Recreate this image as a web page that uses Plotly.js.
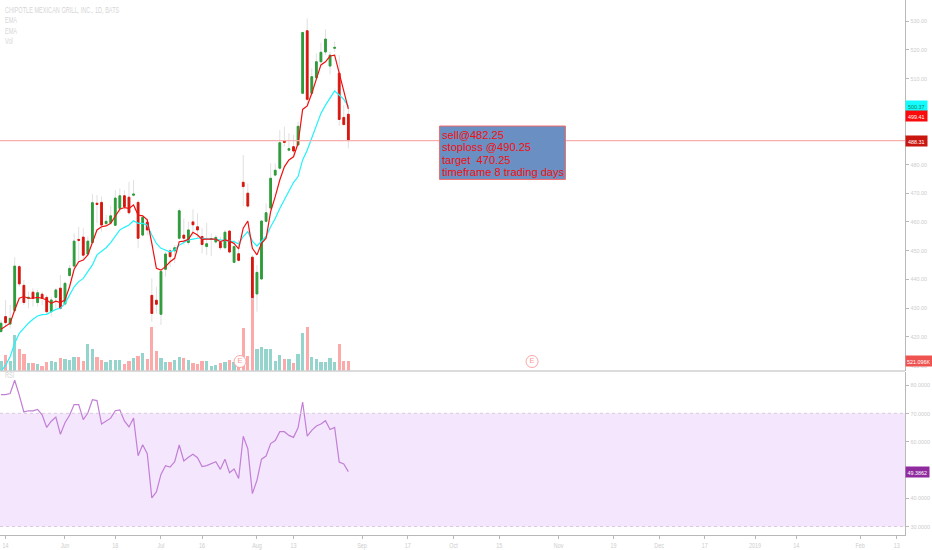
<!DOCTYPE html>
<html><head><meta charset="utf-8">
<script src="https://cdn.plot.ly/plotly-3.0.1.min.js"></script>
<style>html,body{margin:0;padding:0;background:#fff}#c{width:932px;height:550px}</style>
</head><body><div id="c"></div>
<script>
const opens=[421.8,427.0,424.4,429.1,444.4,437.9,433.4,435.5,431.9,434.8,433.7,428.7,433.7,436.9,431.4,441.3,444.6,453.9,454.7,448.8,452.8,466.5,466.8,459.4,459.7,458.8,464.7,469.1,468.6,469.3,466.8,455.4,459.9,434.4,432.7,427.8,443.5,449.9,449.9,454.3,455.4,452.8,460.0,458.3,454.9,451.4,453.9,453.0,452.9,451.0,456.8,445.9,448.9,473.8,470.0,447.7,434.9,440.1,460.2,464.8,476.3,478.7,488.3,485.0,486.2,486.8,504.8,526.6,504.8,510.2,515.8,519.2,514.3,520.5,511.8,496.4,497.5];
const highs=[425.8,432.8,431.0,447.7,445.0,439.8,435.7,436.9,436.3,435.7,434.5,433.9,436.9,441.5,439.2,445.0,456.0,458.3,457.8,454.9,469.7,469.4,468.8,462.4,465.5,471.1,471.7,471.1,474.0,474.6,467.6,462.4,461.2,440.3,437.4,443.2,449.6,450.8,451.9,464.7,461.2,460.1,464.4,463.0,457.8,459.7,456.0,455.4,454.9,457.2,457.2,453.7,453.7,483.3,473.4,448.5,445.0,460.7,466.5,480.4,480.4,492.0,493.2,490.9,490.3,494.9,526.3,530.9,513.5,518.7,522.4,527.1,519.3,522.8,518.1,500.7,500.7];
const lows=[421.2,423.5,422.9,428.7,437.4,431.0,429.9,430.5,430.5,431.0,428.1,427.0,429.9,429.3,431.0,440.9,443.8,446.7,446.7,448.1,452.5,459.5,456.6,458.9,458.9,458.6,463.0,464.1,462.4,468.8,450.8,454.9,455.4,425.2,428.1,424.1,440.9,444.4,445.6,453.7,452.0,452.0,454.9,454.3,449.0,448.5,448.1,452.5,450.2,450.4,449.0,445.6,446.1,465.5,464.7,432.8,428.7,439.8,459.7,464.1,475.8,478.1,486.2,484.5,483.9,486.4,504.8,500.7,503.9,510.0,515.2,518.1,511.4,519.3,493.5,493.8,485.6];
const closes=[424.7,424.9,426.4,444.6,438.4,431.9,433.7,433.4,435.3,433.4,428.7,432.8,436.3,429.9,438.6,443.8,453.3,453.6,448.4,453.3,466.7,466.1,458.9,460.2,462.1,468.3,469.1,465.3,463.2,469.7,454.3,461.6,457.2,428.1,431.3,442.7,448.8,447.9,451.0,463.9,454.3,457.2,459.0,457.2,452.1,452.4,454.2,454.6,451.0,456.4,449.5,451.4,446.6,472.3,465.5,433.6,442.4,460.3,463.2,475.2,478.0,487.6,487.7,485.5,484.7,493.3,526.0,502.7,510.6,515.8,519.1,523.7,518.1,520.8,495.7,493.9,488.31];
const volumeK=[521,834,521,1911,1181,903,417,417,347,261,434,521,434,660,608,556,730,730,521,1424,1181,730,573,469,556,556,556,347,521,660,782,921,643,2345,1042,695,469,469,556,730,660,573,382,347,521,521,261,295,400,452,573,434,434,2293,764,3995,1181,1268,1129,1181,521,834,608,608,382,886,1998,2310,730,608,452,452,695,452,1424,521,521];
const emaFast=[422.6,423.5,424.7,429.3,433.4,434.0,433.4,433.4,433.7,433.4,432.8,431.6,432.4,431.9,432.8,437.4,443.5,446.1,446.7,448.5,452.5,457.2,458.3,458.6,459.5,462.1,464.4,465.0,464.7,465.9,462.4,462.1,460.7,452.5,443.8,443.2,444.4,446.1,447.3,453.1,453.3,453.9,456.4,455.4,453.9,454.0,454.0,454.0,453.1,453.7,453.3,452.5,450.6,457.8,460.3,450.8,448.5,452.5,454.3,463.6,468.8,474.6,479.2,481.6,482.7,487.4,499.2,500.4,504.8,509.4,514.7,515.8,517.8,518.1,511.8,505.4,499.41];
const emaSlow=[407.8,410.1,413.0,417.7,421.2,423.1,424.7,426.1,427.2,427.7,427.8,428.7,429.5,429.9,431.6,434.5,437.4,439.2,440.3,442.7,445.0,448.5,449.6,451.0,452.8,454.9,457.2,458.1,458.9,460.4,459.5,459.5,458.9,455.4,452.5,450.8,450.2,449.6,450.2,451.9,452.8,453.7,454.0,454.3,454.3,454.0,453.9,453.9,453.7,453.7,453.5,453.1,452.3,454.9,456.6,453.3,451.6,453.3,454.9,458.3,461.2,464.7,467.6,470.5,473.7,475.8,481.6,485.0,489.1,493.8,497.8,500.7,503.1,505.6,504.2,502.7,500.37];
const rsi=[76.6,76.6,77.0,81.7,76.4,70.5,70.9,70.9,71.4,69.5,65.0,67.2,68.7,62.6,66.7,69.3,73.1,73.1,67.8,70.1,74.8,74.5,66.2,67.4,68.3,70.9,71.2,67.3,65.2,68.3,55.0,58.9,55.7,40.1,42.2,48.4,51.5,51.0,52.9,58.8,53.2,54.5,55.5,54.3,51.2,51.5,52.2,52.9,50.2,53.8,49.0,50.3,47.0,61.9,57.5,41.6,46.3,53.8,54.9,59.3,60.4,63.5,63.5,62.2,61.5,64.9,74.0,61.9,64.0,65.5,66.2,67.4,64.3,65.0,52.8,52.1,49.3862];
const xTickVals=[1,14,25,35,44,56,64,79,89,99,109,122,134,144,154,165,174,188,196];
const xTickText=['14','Jun','18','Jul','16','Aug','13','Sep','17','Oct','15','Nov','19','Dec','17','2019','14','Feb','13'];
const priceTicks=[410,420,430,440,450,460,470,480,510,520,530];
const rsiTicks=[30,40,60,70,80];
const legendLines=['CHIPOTLE MEXICAN GRILL, INC., 1D, BATS','EMA','EMA','Vol'];
const noteLines=['sell@482.25','stoploss @490.25','target  470.25','timeframe 8 trading days'];
const earningsX=[52.3,116.2];
const earningsY=[483,483];
const lastClose=488.31, lastFast=499.41, lastSlow=500.37, lastRsi=49.3862, lastVol=521.096;

const idx=closes.map((_,i)=>i);
const up=closes.map((c,i)=>c>=opens[i]);
const GREEN='#2d9c3a', RED='#d9160e', TICK='#cdcdcd', AXIS='#b9b9b9';
const sans='"Liberation Sans",Arial,sans-serif';
const H=535, topFrac=1-370.5/H, rsiTop=1-371.5/H;

const traces=[
 {type:'bar',x:idx,y:volumeK,xaxis:'x',yaxis:'y',width:0.72,
  marker:{color:up.map(u=>u?'#95d4cd':'#fba9a9'),line:{width:0}},hoverinfo:'skip'},
 {type:'candlestick',x:idx,open:opens,high:highs,low:lows,close:closes,xaxis:'x',yaxis:'y2',
  whiskerwidth:0,increasing:{line:{color:'#e0e0e0',width:1},fillcolor:'#e0e0e0'},
  decreasing:{line:{color:'#e0e0e0',width:1},fillcolor:'#e0e0e0'},hoverinfo:'skip'},
 {type:'candlestick',x:idx,open:opens,close:closes,
  high:opens.map((o,i)=>Math.max(o,closes[i])),low:opens.map((o,i)=>Math.min(o,closes[i])),
  xaxis:'x',yaxis:'y2',whiskerwidth:0,
  increasing:{line:{color:GREEN,width:1},fillcolor:GREEN},
  decreasing:{line:{color:RED,width:1},fillcolor:RED},hoverinfo:'skip'},
 {type:'scatter',mode:'lines',x:idx,y:emaSlow,xaxis:'x',yaxis:'y2',line:{color:'#22f2fa',width:1.2},hoverinfo:'skip'},
 {type:'scatter',mode:'lines',x:idx,y:emaFast,xaxis:'x',yaxis:'y2',line:{color:'#ee1111',width:1.2},hoverinfo:'skip'},
 {type:'scatter',mode:'markers+text',x:earningsX,y:earningsY,xaxis:'x',yaxis:'y',text:['E','E'],textposition:'middle center',
  textfont:{family:sans,size:7.5,color:'#f79a9a'},
  marker:{symbol:'circle',size:12,color:'#ffffff',line:{color:'#fba5a5',width:1}},hoverinfo:'skip'},
 {type:'scatter',mode:'lines',x:idx,y:rsi,xaxis:'x',yaxis:'y3',line:{color:'#c27fd6',width:1.2},hoverinfo:'skip'}
];

const shapes=[
 {type:'rect',xref:'paper',x0:0,x1:1,yref:'y3',y0:30,y1:70,fillcolor:'#f4e6fd',line:{width:0},layer:'below'},
 {type:'line',xref:'paper',x0:0,x1:1,yref:'y3',y0:70,y1:70,line:{color:'#d9cbdb',width:1,dash:'3px,3px'},layer:'above'},
 {type:'line',xref:'paper',x0:0,x1:1,yref:'y3',y0:30,y1:30,line:{color:'#d9cbdb',width:1,dash:'3px,3px'},layer:'above'},
 {type:'line',xref:'paper',x0:0,x1:1,yref:'paper',y0:(topFrac+rsiTop)/2,y1:(topFrac+rsiTop)/2,line:{color:AXIS,width:1.2},layer:'above'},
 {type:'line',xref:'paper',x0:0,x1:1,yref:'y2',y0:lastClose,y1:lastClose,line:{color:'#f9aeae',width:1.4},layer:'above'},
 {type:'rect',xref:'x',x0:95.95,x1:123.5,yref:'y2',y0:474.8,y1:493.4,fillcolor:'#6a8fc2',line:{color:'#f46a6a',width:1},layer:'above'}
];

const tag=(y,yref,text,bg,fg,w,extra)=>Object.assign({xref:'paper',x:1,xanchor:'left',yref:yref,y:y,yanchor:'middle',
 text:text,showarrow:false,bgcolor:bg,width:w,height:10,borderpad:0,align:'center',
 font:{family:sans,size:6.2,color:fg}},extra||{});

const annotations=[
 tag(lastSlow,'y2',lastSlow.toFixed(2),'#14fbff','#0b8a55',21),
 tag(lastFast,'y2',lastFast.toFixed(2),'#fa0a0a','#ffffff',21,{yshift:-7}),
 tag(lastClose,'y2',lastClose.toFixed(2),'#c9170f','#ffffff',21),
 tag(lastVol,'y',lastVol.toFixed(3)+'K','#ef5350','#ffffff',26),
 tag(lastRsi,'y3',lastRsi.toFixed(4),'#8f2a9f','#ffffff',23)
];
legendLines.forEach((t,i)=>annotations.push({xref:'paper',x:4/905,xanchor:'left',align:'left',yref:'paper',y:1-(10+10.4*i)/H,yanchor:'middle',
 text:t,showarrow:false,borderpad:0,font:{family:sans,size:9,color:'#d6d6d6'}}));
annotations.push({xref:'paper',x:4/905,xanchor:'left',align:'left',yref:'y3',y:83.5,yanchor:'middle',text:'RSI',showarrow:false,borderpad:0,
 font:{family:sans,size:9,color:'#d6d6d6'}});
noteLines.forEach((t,i)=>annotations.push({xref:'paper',x:441/905,xanchor:'left',align:'left',yref:'paper',y:1-(135+12.25*i)/H,yanchor:'middle',
 text:t.replace(/  /g,'\u00a0\u00a0'),showarrow:false,borderpad:0,font:{family:sans,size:11.5,color:'#f01010'}}));

const xFont={family:sans,size:7.5,color:TICK};
const yFont={family:sans,size:6.2,color:TICK};
const layout={
 width:932,height:550,margin:{l:0,r:27,t:0,b:15,pad:0},paper_bgcolor:'#ffffff',plot_bgcolor:'rgba(0,0,0,0)',showlegend:false,
 boxgap:0.45,boxmode:'overlay',barmode:'overlay',bargap:0,
 xaxis:{range:[-0.219,197.8],anchor:'y3',tickmode:'array',tickvals:xTickVals,ticktext:xTickText,showgrid:false,zeroline:false,
  showline:true,linecolor:AXIS,linewidth:1.2,ticks:'outside',ticklen:3,tickcolor:AXIS,tickwidth:1,
  tickfont:xFont,rangeslider:{visible:false},fixedrange:true},
 yaxis:{domain:[topFrac,1],range:[0,370.5*53.7],visible:false,fixedrange:true},
 yaxis2:{domain:[topFrac,1],range:[530-(370.5-21)/2.87,530+21/2.87],overlaying:'y',side:'right',anchor:'x',
  tickmode:'array',tickvals:priceTicks,tickformat:'.2f',showgrid:false,zeroline:false,showline:true,linecolor:AXIS,linewidth:1.2,
  ticks:'outside',ticklen:3,tickcolor:AXIS,tickfont:yFont,fixedrange:true},
 yaxis3:{domain:[0,rsiTop],range:[30-(534.5-526)/2.82,80+(385-371.5)/2.82],side:'right',anchor:'x',
  tickmode:'array',tickvals:rsiTicks,tickformat:'.4f',showgrid:false,zeroline:false,showline:true,linecolor:AXIS,linewidth:1.2,
  ticks:'outside',ticklen:3,tickcolor:AXIS,tickfont:yFont,fixedrange:true},
 shapes:shapes,annotations:annotations
};
// The reference uses a condensed face and none is installed: squeeze real text horizontally.
function condense(node,ratio){
 const w=node.getComputedTextLength();
 node.setAttribute('textLength',(w*ratio).toFixed(2));
 node.setAttribute('lengthAdjust','spacingAndGlyphs');
}
Plotly.newPlot('c',traces,layout,{displayModeBar:false,staticPlot:true}).then(gd=>{
 gd.querySelectorAll('.xtick text').forEach(n=>condense(n,0.72));
 gd.querySelectorAll('.y2tick text,.y3tick text').forEach(n=>condense(n,0.87));
 gd.querySelectorAll('.annotation-text').forEach(n=>{
  const t=n.textContent;
  if(noteLines.some(l=>l.replace(/  /g,'\u00a0\u00a0')===t)) condense(n,0.965);
  else if(legendLines.indexOf(t)>=0||t==='RSI') condense(n,0.62);
  else condense(n,0.87);
 });
});
</script></body></html>
